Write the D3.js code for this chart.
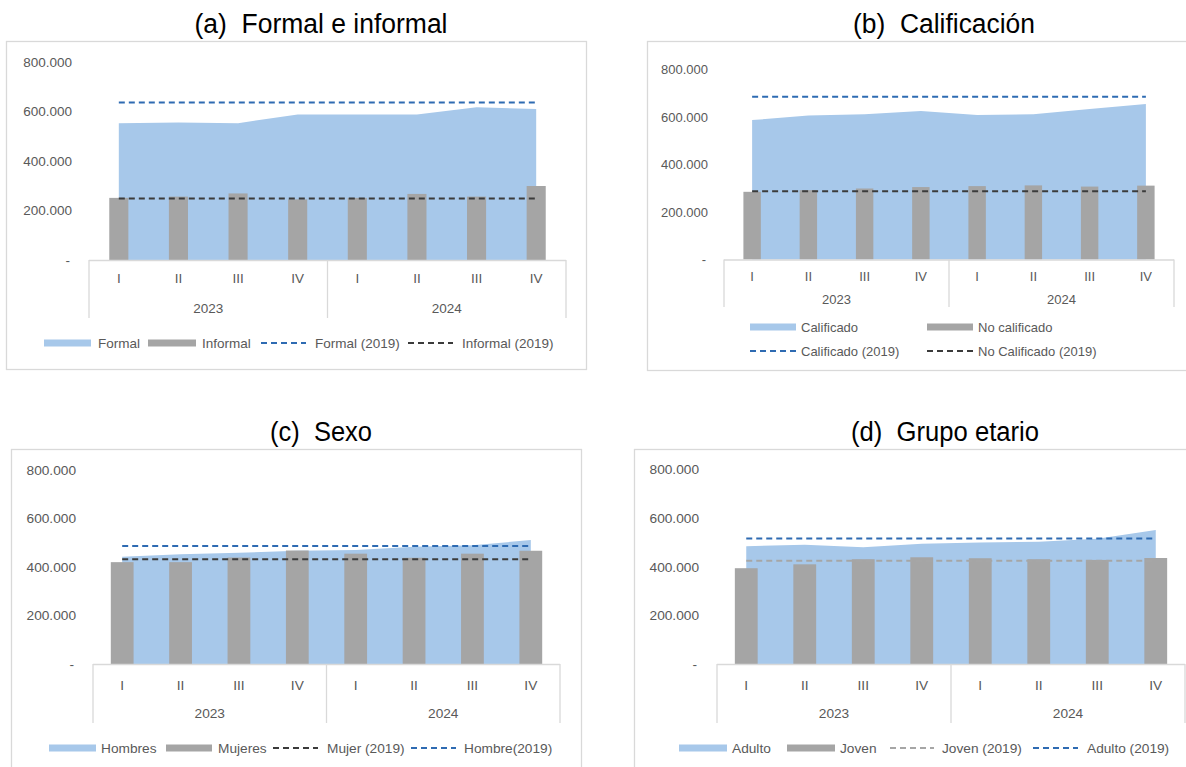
<!DOCTYPE html>
<html><head><meta charset="utf-8">
<script src="https://cdn.jsdelivr.net/npm/d3@7"></script>
<style>body{margin:0;background:#fff} svg{display:block}</style>
</head><body>
<svg id="c" width="1186" height="767"></svg>
<script>
// ---------- data ----------
const quarters = ["I","II","III","IV","I","II","III","IV"];
const years = ["2023","2024"];
const yTicks = [0,200000,400000,600000,800000];
// (a) Formal e informal
const formal = [553000,556000,553000,588000,588000,588000,617000,610000];
const informal = [251000,256000,269000,245000,251000,267000,256000,299000];
const formal2019 = 636000;
const informal2019 = 248000;
// (b) Calificación
const calificado = [587000,606000,612000,625000,608000,612000,634000,655000];
const noCalificado = [285000,292000,299000,305000,309000,312000,307000,311000];
const calificado2019 = 685000;
const noCalificado2019 = 287000;
// (c) Sexo
const hombres = [442000,453000,459000,467000,470000,483000,490000,511000];
const mujeres = [420000,420000,439000,468000,455000,438000,455000,467000];
const mujer2019 = 432000;
const hombre2019 = 487000;
// (d) Grupo etario
const adulto = [484000,491000,480000,495000,500000,503000,515000,551000];
const joven = [394000,410000,431000,439000,435000,431000,428000,436000];
const joven2019 = 425000;
const adulto2019 = 516000;

// ---------- styles ----------
const AREA = "#A7C8EA", BAR = "#A5A5A5", BLUE = "#2E6BB2", DARK = "#3B3B3B", LGRAY = "#A6A6A6";
const AXC = "#D9D9D9", TXT = "#595959";
const FONT = "'Liberation Sans', Arial, sans-serif";

const svg = d3.select("#c");

function fmt(d){ return d === 0 ? "-" : d3.format(",")(d).replace(/,/g,"."); }

function drawPanel(c){
  const g = svg.append("g");
  g.append("rect").attr("x", c.frame[0]+0.5).attr("y", c.frame[1]+0.5)
    .attr("width", c.frame[2]).attr("height", c.frame[3])
    .attr("fill","none").attr("stroke", AXC).attr("stroke-width",1.3);
  g.append("text").text(c.title).attr("x", c.titleX).attr("y", c.titleY)
    .attr("text-anchor","middle").attr("font-family", FONT).attr("font-size", 27)
    .attr("fill","#000").style("white-space","pre")
    .attr("textLength", c.titleW).attr("lengthAdjust","spacingAndGlyphs");

  const x = d3.scaleBand().domain(d3.range(quarters.length)).range([c.left, c.right]);
  const y = d3.scaleLinear().domain([0, 800000]).range([c.y0, c.y800]);
  const cx = i => x(i) + x.bandwidth()/2;
  const bw = x.bandwidth()*c.barRatio;

  g.append("path").datum(c.area)
    .attr("d", d3.area().x((d,i)=>cx(i)).y0(y(0)).y1(d=>y(d)))
    .attr("fill", AREA);
  g.selectAll("rect.bar").data(c.bars).join("rect").attr("class","bar")
    .attr("x",(d,i)=>cx(i)-bw/2).attr("y",d=>y(d))
    .attr("width",bw).attr("height",d=>y(0)-y(d)).attr("fill",BAR);
  c.refs.forEach(r=>{
    g.append("line").attr("x1",cx(0)).attr("x2",cx(quarters.length-1))
      .attr("y1",y(r.v)).attr("y2",y(r.v))
      .attr("stroke",r.color).attr("stroke-width",2).attr("stroke-dasharray","6,4");
  });

  // y axis
  const ya = g.append("g").attr("transform",`translate(${c.labelX},0)`)
    .call(d3.axisLeft(y).tickValues(yTicks).tickSize(0).tickPadding(0).tickFormat(fmt));
  ya.select(".domain").remove();
  ya.selectAll("text").attr("font-family",FONT).attr("font-size",c.fs).attr("fill",TXT)
    .attr("dx", d => d===0 ? -2 : 0);

  // category axis
  g.append("line").attr("x1",c.left).attr("x2",c.right).attr("y1",c.y0+0.5).attr("y2",c.y0+0.5)
    .attr("stroke",AXC).attr("stroke-width",1.3);
  [c.left, x(4), c.right].forEach(v=>{
    g.append("line").attr("x1",v).attr("x2",v).attr("y1",c.y0).attr("y2",c.bottom)
      .attr("stroke",AXC).attr("stroke-width",1.3);
  });
  const xa = g.append("g").attr("transform",`translate(0,${c.qY})`)
    .call(d3.axisBottom(x).tickSize(0).tickPadding(0).tickFormat(i=>quarters[i]));
  xa.select(".domain").remove();
  xa.selectAll("text").attr("font-family",FONT).attr("font-size",c.fs).attr("fill",TXT)
    .attr("dy","0.35em");
  years.forEach((yr,k)=>{
    g.append("text").text(yr).attr("x",(x(4*k)+x(4*k+3)+x.bandwidth())/2).attr("y",c.yrY)
      .attr("dy","0.35em").attr("text-anchor","middle")
      .attr("font-family",FONT).attr("font-size",c.fs).attr("fill",TXT);
  });

  // legend
  c.legend.forEach(L=>{
    if (L.type==="area" || L.type==="bar"){
      g.append("rect").attr("x",L.x0).attr("y",L.y-3.5).attr("width",L.x1-L.x0).attr("height",7)
        .attr("fill", L.type==="area" ? AREA : BAR);
    } else {
      g.append("line").attr("x1",L.x0).attr("x2",L.x1).attr("y1",L.y).attr("y2",L.y)
        .attr("stroke",L.color).attr("stroke-width",2).attr("stroke-dasharray","6,4");
    }
    g.append("text").text(L.label).attr("x",L.tx).attr("y",L.y).attr("dy","0.35em")
      .attr("font-family",FONT).attr("font-size",c.fs).attr("fill",TXT);
  });
}

drawPanel({
  frame:[6,41,580,328], title:"(a)  Formal e informal", titleX:321, titleY:33, titleW:253,
  left:89, right:566, y0:260, y800:62, bottom:318, qY:278, yrY:308, labelX:72, fs:13.5,
  barRatio:0.32, area:formal, bars:informal,
  refs:[{v:formal2019,color:BLUE},{v:informal2019,color:DARK}],
  legend:[
    {type:"area",x0:44,x1:91,y:343,tx:98,label:"Formal"},
    {type:"bar",x0:148,x1:196,y:343,tx:202,label:"Informal"},
    {type:"dash",color:BLUE,x0:261,x1:306,y:343,tx:315,label:"Formal (2019)"},
    {type:"dash",color:DARK,x0:408,x1:453,y:343,tx:462,label:"Informal (2019)"}
  ]
});
drawPanel({
  frame:[647,41,560,329], title:"(b)  Calificación", titleX:944, titleY:33, titleW:182,
  left:724, right:1174, y0:259.5, y800:69.5, bottom:307, qY:276, yrY:299, labelX:708, fs:13,
  barRatio:0.31, area:calificado, bars:noCalificado,
  refs:[{v:calificado2019,color:BLUE},{v:noCalificado2019,color:DARK}],
  legend:[
    {type:"area",x0:750,x1:796,y:327,tx:801,label:"Calificado"},
    {type:"bar",x0:927,x1:973,y:327,tx:978,label:"No calificado"},
    {type:"dash",color:BLUE,x0:750,x1:796,y:351,tx:801,label:"Calificado (2019)"},
    {type:"dash",color:DARK,x0:927,x1:973,y:351,tx:978,label:"No Calificado (2019)"}
  ]
});
drawPanel({
  frame:[11,449,570,340], title:"(c)  Sexo", titleX:321, titleY:441, titleW:102,
  left:93, right:560, y0:664, y800:470, bottom:723, qY:685, yrY:713, labelX:76, fs:13.7,
  barRatio:0.39, area:hombres, bars:mujeres,
  refs:[{v:mujer2019,color:DARK},{v:hombre2019,color:BLUE}],
  legend:[
    {type:"area",x0:49,x1:96,y:748,tx:101,label:"Hombres"},
    {type:"bar",x0:166,x1:212,y:748,tx:218,label:"Mujeres"},
    {type:"dash",color:DARK,x0:273,x1:318,y:748,tx:327,label:"Mujer (2019)"},
    {type:"dash",color:BLUE,x0:411,x1:456,y:748,tx:464,label:"Hombre(2019)"}
  ]
});
drawPanel({
  frame:[634,449,580,340], title:"(d)  Grupo etario", titleX:945, titleY:441, titleW:188,
  left:717, right:1185, y0:664, y800:469.5, bottom:723, qY:685, yrY:713, labelX:699, fs:13.7,
  barRatio:0.39, area:adulto, bars:joven,
  refs:[{v:joven2019,color:LGRAY},{v:adulto2019,color:BLUE}],
  legend:[
    {type:"area",x0:679,x1:727,y:748,tx:732,label:"Adulto"},
    {type:"bar",x0:787,x1:835,y:748,tx:840,label:"Joven"},
    {type:"dash",color:LGRAY,x0:890,x1:934,y:748,tx:942,label:"Joven (2019)"},
    {type:"dash",color:BLUE,x0:1033,x1:1078,y:748,tx:1087,label:"Adulto (2019)"}
  ]
});
</script>
</body></html>
